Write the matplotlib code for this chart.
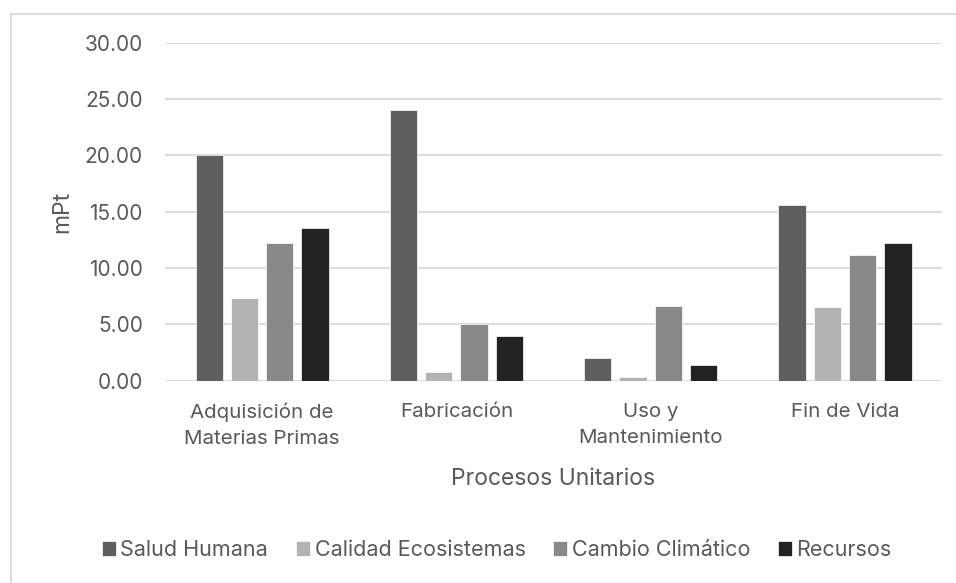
import numpy as np
import matplotlib
matplotlib.use("Agg")
import matplotlib.pyplot as plt
from matplotlib.patches import Rectangle

plt.rcParams['font.family'] = ['Inter', 'DejaVu Sans']

# data
procesos = ['Adquisición de\nMaterias Primas', 'Fabricación', 'Uso y\nMantenimiento', 'Fin de Vida']
series = ['Salud Humana', 'Calidad Ecosistemas', 'Cambio Climático', 'Recursos']
salud = [20.00, 23.99, 1.98, 15.56]
calidad = [7.34, 0.80, 0.30, 6.57]
cambio = [12.22, 5.00, 6.63, 11.12]
recursos = [13.58, 3.96, 1.36, 12.25]
colores = ['#5f5f5f', '#b2b2b2', '#898989', '#222222']
yticks = [0, 5, 10, 15, 20, 25, 30]

text_col = '#595959'

fig = plt.figure(figsize=(9.56, 5.83), dpi=100)
ax = fig.add_axes([0.1726, 0.347, 0.8128, 0.5798])

# chart border (Excel style)
fig.add_artist(Rectangle((11 / 956, -0.1), 1.1, 1 - 14 / 583 + 0.1,
                         transform=fig.transFigure, fill=False,
                         edgecolor='#d9d9d9', linewidth=1.3))

x = np.arange(len(procesos))
width = 0.1405
step = 0.1817
for i, (vals, name) in enumerate(zip([salud, calidad, cambio, recursos], series)):
    ax.bar(x + (i - 1.5) * step, vals, width, color=colores[i], label=name,
           edgecolor='white', linewidth=0.5, zorder=3)

ax.set_xlim(-0.5, len(procesos) - 0.5)
ax.set_ylim(0, 30)
ax.set_yticks(yticks)
ax.set_yticklabels([f'{v:.2f}' for v in yticks])
ax.set_xticks(x)
ax.set_xticklabels(procesos, linespacing=1.55)
ax.grid(axis='y', color='#d9d9d9', linewidth=1.3, zorder=0)
ax.set_axisbelow(True)
for s in ax.spines.values():
    s.set_visible(False)
ax.tick_params(axis='both', length=0, labelcolor=text_col)
ax.tick_params(axis='y', pad=16, labelsize=15)
ax.tick_params(axis='x', pad=16, labelsize=14.8)

ax.set_ylabel('mPt', fontsize=16.5, color=text_col, labelpad=8)
ax.set_xlabel('Procesos Unitarios', fontsize=16.5, color=text_col, labelpad=14)

leg = fig.legend(loc='center', bbox_to_anchor=(497 / 956, 1 - 550 / 583), ncol=4,
                 frameon=False, fontsize=15.5, handlelength=0.65, handleheight=0.65,
                 handletextpad=0.2, columnspacing=1.3)
for t in leg.get_texts():
    t.set_color(text_col)

fig.savefig('out.png', dpi=100, facecolor='white')
